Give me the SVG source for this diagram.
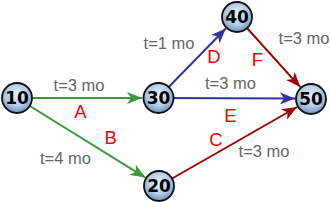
<svg xmlns="http://www.w3.org/2000/svg" width="330" height="202" viewBox="0 0 330 202">
<style>
.lbl{font-family:"Liberation Sans",Arial,sans-serif;font-size:16.5px;fill:#666;text-anchor:middle}
.act{font-family:"Liberation Sans",Arial,sans-serif;font-size:18.5px;fill:#ff0000;text-anchor:middle}
.node circle{fill:url(#ng);stroke:#111;stroke-width:1.8}
.node text{font-family:"DejaVu Sans",Verdana,sans-serif;font-weight:bold;font-size:17px;fill:#000;text-anchor:middle}
.g{stroke:#3a9a3a;stroke-width:2;fill:none}
.b{stroke:#33339e;stroke-width:2;fill:none}
.r{stroke:#a00000;stroke-width:2;fill:none}
</style>
<defs>
<radialGradient id="ng" cx="50%" cy="40%" r="60%">
<stop offset="0" stop-color="#eaf2fb"/>
<stop offset="0.6" stop-color="#b4cce6"/>
<stop offset="1" stop-color="#6e92bc"/>
</radialGradient>
<marker id="ag" markerUnits="userSpaceOnUse" markerWidth="16" markerHeight="12" refX="15" refY="6" orient="auto"><path d="M0,0 L15,6 L0,12 L4,6 z" fill="#3a9a3a"/></marker>
<marker id="ab" markerUnits="userSpaceOnUse" markerWidth="16" markerHeight="12" refX="15" refY="6" orient="auto"><path d="M0,0 L15,6 L0,12 L4,6 z" fill="#33339e"/></marker>
<marker id="ar" markerUnits="userSpaceOnUse" markerWidth="16" markerHeight="12" refX="15" refY="6" orient="auto"><path d="M0,0 L15,6 L0,12 L4,6 z" fill="#a00000"/></marker>
</defs>
<g id="connectors">
<line class="g" x1="17" y1="98" x2="142" y2="98" marker-end="url(#ag)"/>
<line class="g" x1="17" y1="98" x2="145.4" y2="177.6" marker-end="url(#ag)"/>
<line class="b" x1="158" y1="98" x2="225.8" y2="28.5" marker-end="url(#ab)"/>
<line class="b" x1="158" y1="98" x2="295" y2="98.5" marker-end="url(#ab)"/>
<line class="r" x1="159" y1="186" x2="297.1" y2="107" marker-end="url(#ar)"/>
<line class="r" x1="237" y1="17" x2="300.3" y2="87.1" marker-end="url(#ar)"/>
</g>
<g id="labels">
<text class="lbl" x="79" y="91">t=3 mo</text>
<text class="act" x="80.5" y="117.7">A</text>
<text class="act" x="110.7" y="144">B</text>
<text class="lbl" x="65.4" y="164.3">t=4 mo</text>
<text class="lbl" x="169" y="49">t=1 mo</text>
<text class="act" x="214" y="63.3">D</text>
<text class="act" x="257.5" y="66">F</text>
<text class="lbl" x="304" y="44">t=3 mo</text>
<text class="lbl" x="230.4" y="89.3">t=3 mo</text>
<text class="act" x="230.5" y="121.7">E</text>
<text class="act" x="216" y="146">C</text>
<text class="lbl" x="264" y="156.7">t=3 mo</text>
</g>
<g id="n10" class="node"><circle cx="17" cy="98" r="15"/><text x="17" y="104.3">10</text></g>
<g id="n30" class="node"><circle cx="158.5" cy="98" r="15"/><text x="158.5" y="104.3">30</text></g>
<g id="n40" class="node"><circle cx="237" cy="17" r="15"/><text x="237" y="23.3">40</text></g>
<g id="n50" class="node"><circle cx="311" cy="99" r="15"/><text x="311" y="105.3">50</text></g>
<g id="n20" class="node"><circle cx="159" cy="186" r="15"/><text x="159" y="192.3">20</text></g>
</svg>
